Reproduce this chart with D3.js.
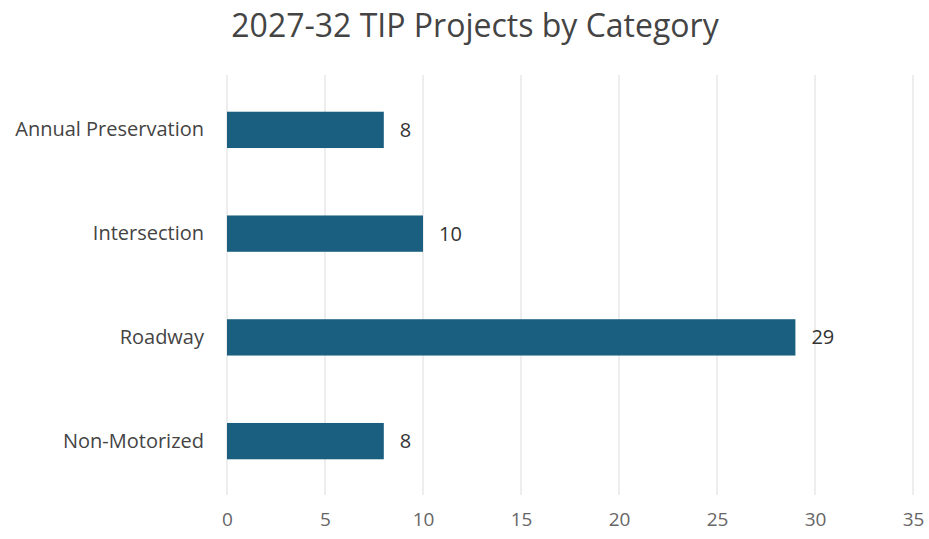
<!DOCTYPE html>
<html>
<head>
<meta charset="utf-8">
<script src="https://cdn.jsdelivr.net/npm/d3@7"></script>
<style>
  body { margin: 0; background: #fff; }
  text { font-family: "Open Sans", "Noto Sans", sans-serif; }
</style>
</head>
<body>
<div id="chart-container"></div>
<script>
const categories = ["Annual Preservation", "Intersection", "Roadway", "Non-Motorized"];
const projectCounts = [8, 10, 29, 8];
const xTicks = [0, 5, 10, 15, 20, 25, 30, 35];
const chartTitle = "2027-32 TIP Projects by Category";

const width = 929;
const height = 539;
const margin = { top: 78, right: 16, bottom: 46, left: 227 };

const data = categories.map((c, i) => ({ name: c, value: projectCounts[i] }));

const svg = d3
  .select("#chart-container")
  .append("svg")
  .attr("width", width)
  .attr("height", height);

const x = d3
  .scaleLinear()
  .domain([0, 35])
  .range([margin.left, 913]);

const y = d3
  .scaleBand()
  .domain(categories)
  .range([margin.top, height - margin.bottom])
  .paddingInner(0.65)
  .paddingOuter(0.325);

// gridlines
svg.append("g")
  .selectAll("line")
  .data(xTicks)
  .enter()
  .append("line")
  .attr("x1", d => x(d))
  .attr("x2", d => x(d))
  .attr("y1", margin.top - 3)
  .attr("y2", height - margin.bottom + 2)
  .style("stroke", "#dcdcdc")
  .style("stroke-width", 1);

// x axis labels
const xAxis = svg.append("g")
  .attr("transform", `translate(0, ${height - margin.bottom + 16})`)
  .call(d3.axisBottom(x).tickValues(xTicks).tickSize(0).tickPadding(0));
xAxis.select(".domain").remove();
xAxis.selectAll("text")
  .style("font-size", "19px")
  .style("fill", "#666")
  .attr("dy", "0.9em");

// y axis labels
const yAxis = svg.append("g")
  .attr("transform", `translate(${margin.left - 23}, 0)`)
  .call(d3.axisLeft(y).tickSize(0).tickPadding(0));
yAxis.select(".domain").remove();
yAxis.selectAll("text")
  .style("font-size", "20px")
  .style("fill", "#444");

// bars
svg.append("g")
  .selectAll("rect")
  .data(data)
  .enter()
  .append("rect")
  .attr("x", x(0))
  .attr("y", d => y(d.name))
  .attr("width", d => x(d.value) - x(0))
  .attr("height", y.bandwidth())
  .style("fill", "#1a5f80");

// value labels
svg.append("g")
  .selectAll("text")
  .data(data)
  .enter()
  .append("text")
  .attr("x", d => x(d.value) + 16)
  .attr("y", d => y(d.name) + y.bandwidth() / 2)
  .attr("dy", "0.35em")
  .style("font-size", "20px")
  .style("fill", "#333")
  .text(d => d.value);

// title
svg.append("text")
  .attr("x", 475)
  .attr("y", 37)
  .attr("text-anchor", "middle")
  .style("font-size", "32px")
  .style("fill", "#444")
  .text(chartTitle);
</script>
</body>
</html>
